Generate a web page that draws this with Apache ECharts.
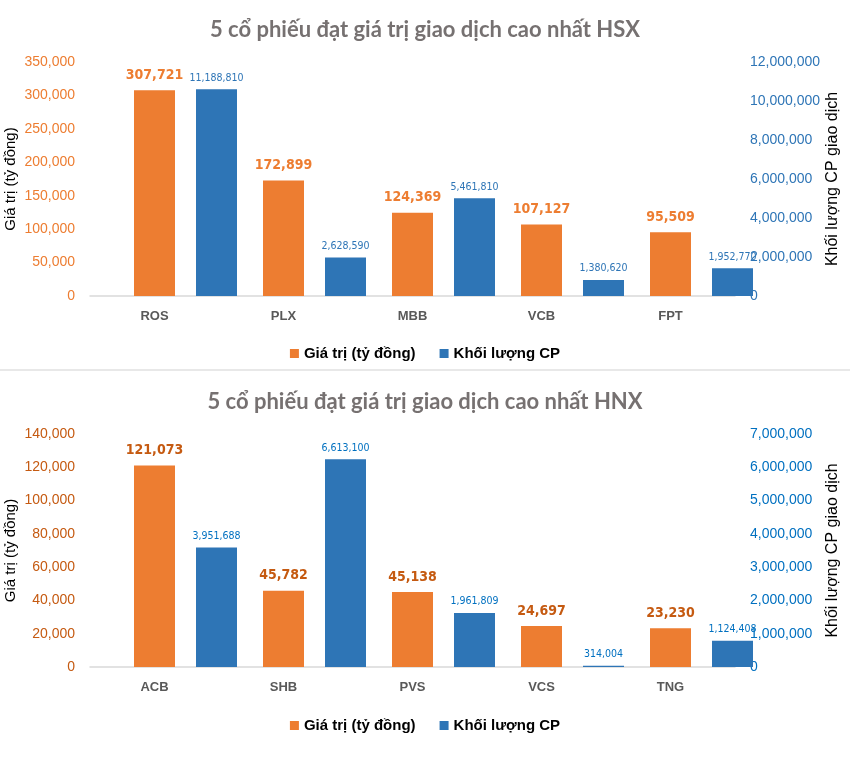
<!DOCTYPE html>
<html>
<head>
<meta charset="utf-8">
<script src="https://cdn.jsdelivr.net/npm/echarts@6/dist/echarts.min.js"></script>
<style>
html,body{margin:0;padding:0;background:#fff;}
#c{width:850px;height:769px;}
</style>
</head>
<body>
<div id="c"></div>
<script>
// ---- Data: top chart (HSX) ----
const hsxTitle = '5 cổ phiếu đạt giá trị giao dịch cao nhất HSX';
const hsxCategories = ['ROS', 'PLX', 'MBB', 'VCB', 'FPT'];
const hsxValue = [307721, 172899, 124369, 107127, 95509];
const hsxVolumeLabels = [11188810, 2628590, 5461810, 1380620, 1952770];
// bar heights as drawn in the reference (on the right axis scale)
const hsxVolumeBars = [10600000, 1980000, 5010000, 820000, 1420000];
const hsxLeftTicks = [0, 350000, 50000];
const hsxRightTicks = [0, 12000000, 2000000];

// ---- Data: bottom chart (HNX) ----
const hnxTitle = '5 cổ phiếu đạt giá trị giao dịch cao nhất HNX';
const hnxCategories = ['ACB', 'SHB', 'PVS', 'VCS', 'TNG'];
const hnxValue = [121073, 45782, 45138, 24697, 23230];
const hnxVolumeLabels = [3951688, 6613100, 1961809, 314004, 1124408];
const hnxVolumeBars = [3590000, 6240000, 1620000, 40000, 790000];
const hnxLeftTicks = [0, 140000, 20000];
const hnxRightTicks = [0, 7000000, 1000000];

const seriesNames = ['Giá trị (tỷ đồng)', 'Khối lượng CP'];
const leftAxisName = 'Giá trị (tỷ đồng)';
const rightAxisName = 'Khối lượng CP giao dịch';

const fmt = v => Number(v).toLocaleString('en-US');

const ORANGE = '#ED7D31';
const BLUE = '#2E75B6';
const NARROW = "'DejaVu Sans Condensed', 'Liberation Sans', sans-serif";

function block(idx, cfg) {
  const g0 = idx * 2, g1 = idx * 2 + 1;
  const yL = idx * 3, yR = idx * 3 + 1, yH = idx * 3 + 2;
  const grids = [
    {left: 90, width: 645, top: cfg.top, height: cfg.h, containLabel: false, outerBoundsMode: 'none'},
    {left: 152, width: 645, top: cfg.top, height: cfg.h, containLabel: false, outerBoundsMode: 'none'}
  ];
  const xAxes = [
    {gridIndex: g0, type: 'category', data: cfg.cats,
     axisLine: {lineStyle: {color: '#D9D9D9', width: 1.5}}, axisTick: {show: false},
     axisLabel: {color: '#595959', fontFamily: 'Liberation Sans', fontWeight: 'bold', fontSize: 13, margin: 14}},
    {gridIndex: g1, type: 'category', data: cfg.cats, show: false}
  ];
  const yAxes = [
    {gridIndex: g0, type: 'value', position: 'left', min: cfg.lt[0], max: cfg.lt[1], interval: cfg.lt[2],
     splitLine: {show: false}, axisLine: {show: false}, axisTick: {show: false},
     axisLabel: {color: cfg.leftColor, fontFamily: 'Liberation Sans', fontSize: 14, formatter: fmt, margin: 15},
     name: leftAxisName, nameLocation: 'middle', nameRotate: 90, nameGap: 72, nameMoveOverlap: false,
     nameTextStyle: {color: '#000', fontFamily: 'Liberation Sans', fontSize: 15}},
    {gridIndex: g0, type: 'value', position: 'right', min: cfg.rt[0], max: cfg.rt[1], interval: cfg.rt[2],
     splitLine: {show: false}, axisLine: {show: false}, axisTick: {show: false},
     axisLabel: {color: cfg.rightColor, fontFamily: 'Liberation Sans', fontSize: 14, formatter: fmt, margin: 15},
     name: rightAxisName, nameLocation: 'middle', nameRotate: 90, nameGap: 90, nameMoveOverlap: false,
     nameTextStyle: {color: '#000', fontFamily: 'Liberation Sans', fontSize: 16}},
    {gridIndex: g1, type: 'value', show: false, min: cfg.rt[0], max: cfg.rt[1], interval: cfg.rt[2],
     splitLine: {show: false}}
  ];
  const series = [
    {name: seriesNames[0], type: 'bar', xAxisIndex: g0, yAxisIndex: yL, data: cfg.val,
     barWidth: 41, itemStyle: {color: ORANGE},
     label: {show: true, position: 'top', distance: 8, color: cfg.valLabelColor,
       fontFamily: NARROW, fontWeight: 'bold', fontSize: 14, formatter: p => fmt(p.value)}},
    {name: seriesNames[1], type: 'bar', xAxisIndex: g1, yAxisIndex: yH, data: cfg.volBars,
     barWidth: 41, itemStyle: {color: BLUE},
     label: {show: true, position: 'top', distance: 6, color: cfg.volLabelColor,
       fontFamily: NARROW, fontSize: 10.5, formatter: p => fmt(cfg.volLabels[p.dataIndex])}}
  ];
  const title = {text: cfg.title, left: 'center', top: cfg.titleTop,
    textStyle: {color: '#767171', fontFamily: 'Lato', fontWeight: 'bold', fontSize: 22}};
  const legend = {top: cfg.legendTop, left: 'center', itemWidth: 9, itemHeight: 9, itemGap: 24, icon: 'rect',
    data: seriesNames.map(n => ({name: n})),
    textStyle: {color: '#000', fontFamily: 'Liberation Sans', fontWeight: 'bold', fontSize: 15}};
  return {grids, xAxes, yAxes, series, title, legend};
}

const b0 = block(0, {top: 62, h: 234, cats: hsxCategories, val: hsxValue, volBars: hsxVolumeBars,
  volLabels: hsxVolumeLabels, lt: hsxLeftTicks, rt: hsxRightTicks, title: hsxTitle, titleTop: 14,
  legendTop: 341, leftColor: ORANGE, rightColor: BLUE, valLabelColor: ORANGE, volLabelColor: BLUE});
const b1 = block(1, {top: 434, h: 233, cats: hnxCategories, val: hnxValue, volBars: hnxVolumeBars,
  volLabels: hnxVolumeLabels, lt: hnxLeftTicks, rt: hnxRightTicks, title: hnxTitle, titleTop: 386,
  legendTop: 713, leftColor: '#C55A11', rightColor: '#0070C0', valLabelColor: '#C55A11', volLabelColor: '#0070C0'});

const chart = echarts.init(document.getElementById('c'));
chart.setOption({
  backgroundColor: '#fff',
  animation: false,
  title: [b0.title, b1.title],
  legend: [b0.legend, b1.legend],
  grid: [...b0.grids, ...b1.grids],
  xAxis: [...b0.xAxes, ...b1.xAxes],
  yAxis: [...b0.yAxes, ...b1.yAxes],
  series: [...b0.series, ...b1.series],
  graphic: [{type: 'line', shape: {x1: 0, y1: 370, x2: 850, y2: 370}, style: {stroke: '#E0E0E0', lineWidth: 1.5}}]
});
</script>
</body>
</html>
